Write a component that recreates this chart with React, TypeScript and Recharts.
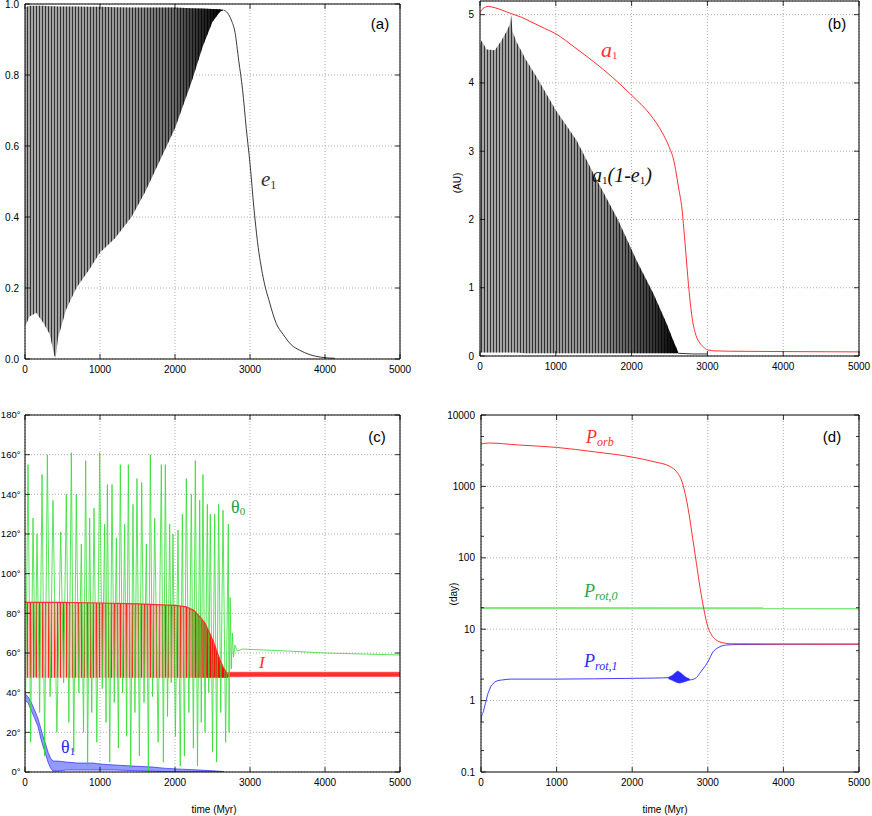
import React from "react";
import {
  Area,
  CartesianGrid,
  ComposedChart,
  Line,
  ReferenceLine,
  XAxis,
  YAxis,
} from "recharts";

// ---- axes ----
const TIME_TICKS = [0, 1000, 2000, 3000, 4000, 5000];
const E_TICKS = [0, 0.2, 0.4, 0.6, 0.8, 1.0];
const AU_TICKS = [0, 1, 2, 3, 4, 5];
const DEG_TICKS = [0, 20, 40, 60, 80, 100, 120, 140, 160, 180];
const DAY_MAJOR = [0.1, 1, 10, 100, 1000, 10000];
const DAY_TICKS = [0.1, 0.2, 0.5, 1, 2, 5, 10, 20, 50, 100, 200, 500, 1000, 2000, 5000, 10000];

// ---- (a) eccentricity e1: oscillation envelope, then smooth decay ----
const E1_OSC_T = [0, 60, 150, 250, 330, 390, 410, 440, 550, 684, 850, 1000, 1200, 1420, 1600, 1800, 2000, 2220, 2370, 2500, 2600, 2650];
const E1_OSC_LO = [0.09, 0.12, 0.13, 0.1, 0.07, 0.01, 0.005, 0.06, 0.14, 0.2, 0.25, 0.3, 0.34, 0.4, 0.47, 0.56, 0.65, 0.78, 0.88, 0.95, 0.978, 0.983];
const E1_OSC_HI = [0.99, 0.995, 0.995, 0.995, 0.994, 0.994, 0.994, 0.993, 0.993, 0.993, 0.992, 0.992, 0.991, 0.99, 0.99, 0.99, 0.99, 0.988, 0.987, 0.986, 0.985, 0.983];
const E1_TAIL_T = [2650, 2700, 2750, 2800, 2850, 2900, 2950, 3000, 3050, 3100, 3175, 3260, 3350, 3440, 3550, 3660, 3800, 3950, 4130];
const E1_TAIL = [0.983, 0.975, 0.955, 0.92, 0.84, 0.76, 0.65, 0.55, 0.43, 0.33, 0.23, 0.16, 0.1, 0.07, 0.04, 0.025, 0.012, 0.005, 0.002];

// ---- (b) a1 and a1(1-e1) in AU ----
const A1_T = [0, 40, 110, 200, 400, 550, 700, 850, 1000, 1250, 1500, 1750, 2000, 2250, 2400, 2500, 2560, 2600, 2630, 2660, 2690, 2720, 2750, 2770, 2800, 2850, 2900, 2950, 3000, 3100, 3300, 4000, 5000];
const A1 = [5.03, 5.09, 5.12, 5.1, 5.02, 4.96, 4.88, 4.8, 4.72, 4.52, 4.31, 4.08, 3.82, 3.53, 3.28, 3.05, 2.85, 2.6, 2.4, 2.2, 1.85, 1.45, 1.05, 0.82, 0.55, 0.3, 0.19, 0.13, 0.09, 0.075, 0.07, 0.065, 0.06];
const Q1_OSC_T = [0, 20, 86, 196, 284, 358, 390, 411, 430, 482, 600, 745, 1000, 1273, 1498, 1823, 2065, 2285, 2460, 2548, 2614];
const Q1_OSC_HI = [4.55, 4.62, 4.49, 4.48, 4.62, 4.77, 4.85, 4.99, 4.75, 4.6, 4.35, 4.09, 3.6, 3.16, 2.67, 1.99, 1.4, 0.92, 0.48, 0.23, 0.06];
const Q1_OSC_LO = [0.05, 0.05, 0.05, 0.05, 0.05, 0.05, 0.05, 0.05, 0.05, 0.05, 0.04, 0.04, 0.04, 0.04, 0.04, 0.04, 0.04, 0.04, 0.04, 0.04, 0.04];
const Q1_TAIL_T = [2614, 2800, 3000];
const Q1_TAIL = [0.04, 0.03, 0.03];

// ---- (c) angles in degrees ----
const TH0_T = [0, 40, 75, 107, 135, 160, 195, 227, 262, 298, 335, 373, 425, 476, 515, 551, 585, 618, 650, 684, 718, 751, 780, 809, 835, 862, 890, 920, 958, 996, 1030, 1062, 1080, 1098, 1130, 1160, 1190, 1218, 1245, 1271, 1300, 1329, 1355, 1378, 1410, 1440, 1466, 1493, 1525, 1556, 1587, 1618, 1645, 1671, 1700, 1729, 1775, 1818, 1845, 1871, 1900, 1929, 1950, 1973, 2005, 2040, 2070, 2098, 2125, 2151, 2185, 2218, 2245, 2271, 2300, 2329, 2350, 2373, 2400, 2431, 2450, 2471, 2500, 2529, 2555, 2582, 2610, 2640, 2675, 2711, 2720, 2735, 2750, 2765, 2780, 2800, 2830, 2900, 3500, 4000, 5000];
const TH0 = [10, 155, 15, 128, 48, 120, 30, 150, 8, 160, 38, 137, 20, 121, 45, 140, 25, 161, 10, 140, 40, 115, 20, 157, 3, 128, 30, 133, 15, 161, 42, 125, 25, 145, 5, 145, 35, 118, 12, 155, 40, 125, 18, 155, 2, 135, 30, 148, 8, 146, 35, 115, 0, 160, 38, 128, 15, 155, 5, 155, 28, 125, 45, 120, 18, 122, 3, 130, 8, 148, 30, 140, 12, 157, 3, 137, 25, 150, 20, 135, 40, 130, 10, 130, 5, 135, 30, 132, 15, 125, 20, 88, 52, 70, 58, 64, 61, 62, 61, 60, 59];
const INC_OSC_T = [0, 500, 1000, 1500, 2000, 2150, 2250, 2330, 2400, 2462, 2510, 2551, 2600, 2640, 2706];
const INC_OSC_HI = [85.5, 85.5, 85.2, 84.8, 84, 83.3, 81.5, 78.3, 75, 70, 66, 61.5, 56.5, 53, 48.8];
const INC_OSC_LO = [47.5, 47.5, 47.5, 47.5, 47.5, 47.5, 47.5, 47.5, 47.5, 47.5, 47.5, 47.5, 47.5, 47.5, 47.5];
const INC_TAIL_T = [2700, 3500, 5000];
const INC_TAIL_LO = [48, 48.2, 48.2];
const INC_TAIL_HI = [50.3, 50.3, 50.3];
const TH1_T = [0, 40, 84, 130, 173, 210, 240, 275, 307, 340, 373, 440, 551, 700, 907, 1000, 1200, 1440, 1700, 1884, 2100, 2329, 2551, 2650];
const TH1_LO = [36, 35, 31, 27, 23, 17, 13, 9, 5, 2, 0.5, 0.5, 1, 1, 1, 1, 1, 0.7, 0.4, 0.2, 0.1, 0, 0, 0];
const TH1_HI = [39.5, 38, 35, 31, 27, 22, 18, 14, 10, 7, 5.5, 5.5, 5, 4.5, 4.5, 4, 3.5, 3, 2.5, 1.8, 1.4, 1, 0.5, 0.2];

// ---- (d) periods in days ----
const PORB_T = [0, 100, 500, 1000, 1500, 2000, 2300, 2500, 2600, 2650, 2700, 2750, 2800, 2850, 2900, 2950, 3000, 3050, 3100, 3200, 3300, 4000, 5000];
const PORB = [3920, 4050, 3800, 3515, 3050, 2575, 2200, 1905, 1540, 1240, 800, 420, 187, 83, 37, 18.6, 10.8, 8.3, 7.2, 6.46, 6.25, 6.2, 6.17];
const PROT0_T = [0, 5000];
const PROT0 = [19.8, 19.6];
const PROT1_T = [0, 8, 31, 50, 66, 88, 110, 132, 155, 177, 220, 287, 400, 1000, 1500, 2000, 2400, 2500, 2760, 2850, 2892, 2936, 3002, 3068, 3135, 3245, 3400, 4000, 5000];
const PROT1 = [0.5, 0.6, 0.7, 0.85, 0.97, 1.22, 1.4, 1.6, 1.7, 1.8, 1.9, 1.95, 2.0, 2.0, 2.02, 2.05, 2.08, 2.1, 1.95, 2.1, 2.4, 2.77, 3.5, 4.8, 5.5, 6.0, 6.1, 6.15, 6.17];
const PROT1_BLOB_T = [2480, 2530, 2570, 2600, 2630, 2670, 2710, 2760];
const PROT1_BLOB_LO = [2.02, 1.92, 1.83, 1.78, 1.76, 1.8, 1.86, 1.95];
const PROT1_BLOB_HI = [2.12, 2.25, 2.45, 2.6, 2.5, 2.3, 2.12, 2.0];

const SANS = "'Liberation Sans', Arial, Helvetica, sans-serif";
const SERIF = "'Liberation Serif', 'DejaVu Serif', serif";
const RED = "#ff3030";
const BLUE = "#2a2aff";
const GREEN = "#30dd30";

const rows = (t: number[], v: number[]) => t.map((x, i) => ({ t: x, v: v[i] }));
const band = (t: number[], lo: number[], hi: number[]) =>
  t.map((x, i) => ({ t: x, r: [lo[i], hi[i]] }));

type Side = "left" | "right" | "bottom" | "top";

function makeTick(side: Side, fmt?: (v: number) => string, majors?: number[], margin = 6, size = 10) {
  return (props: any) => {
    const { x, y, payload } = props;
    const v = payload.value as number;
    const major = !majors || majors.some((m) => Math.abs(m - v) < 1e-9 * Math.max(1, m));
    const len = major ? 5 : 3;
    const showText = fmt && major;
    if (side === "left") {
      return (
        <g>
          <line x1={x + margin} x2={x + margin + len} y1={y} y2={y} stroke="#000" strokeWidth={0.8} />
          {showText ? (
            <text x={x} y={y} dy="0.35em" textAnchor="end" fontSize={size} fontFamily={SANS} fill="#000">
              {fmt!(v)}
            </text>
          ) : null}
        </g>
      );
    }
    if (side === "right") {
      return <line x1={x} x2={x - len} y1={y} y2={y} stroke="#000" strokeWidth={0.8} />;
    }
    if (side === "top") {
      return <line x1={x} x2={x} y1={y} y2={y + len} stroke="#000" strokeWidth={0.8} />;
    }
    return (
      <g>
        <line x1={x} x2={x} y1={y - 7} y2={y - 7 - len} stroke="#000" strokeWidth={0.8} />
        {showText ? (
          <text x={x} y={y} dy="0.71em" textAnchor="middle" fontSize={10} fontFamily={SANS} fill="#000">
            {fmt!(v)}
          </text>
        ) : null}
      </g>
    );
  };
}

const fmtNum = (v: number) => String(v);
const fmtE = (v: number) => v.toFixed(1);
const fmtDeg = (v: number) => `${v}°`;

function Frame({
  yDomain,
  yTicks,
  yFmt,
  yWidth,
  log,
  majors,
  margin = 6,
  size = 10,
}: {
  yDomain: [number, number];
  yTicks: number[];
  yFmt: (v: number) => string;
  yWidth: number;
  log?: boolean;
  majors?: number[];
  margin?: number;
  size?: number;
}) {
  return [
    <XAxis
      key="xb"
      type="number"
      dataKey="t"
      domain={[0, 5000]}
      ticks={TIME_TICKS}
      interval={0}
      allowDataOverflow
      height={20}
      tickSize={0}
      tickMargin={7}
      tickLine={false}
      axisLine={{ stroke: "#000" }}
      tick={makeTick("bottom", fmtNum)}
    />,
    <XAxis
      key="xt"
      xAxisId="top"
      orientation="top"
      type="number"
      dataKey="t"
      domain={[0, 5000]}
      ticks={TIME_TICKS}
      interval={0}
      allowDataOverflow
      height={1}
      tickSize={0}
      tickMargin={0}
      tickLine={false}
      axisLine={{ stroke: "#000" }}
      tick={makeTick("top")}
    />,
    <YAxis
      key="yl"
      type="number"
      scale={log ? "log" : "auto"}
      domain={yDomain}
      ticks={yTicks}
      interval={0}
      allowDataOverflow
      width={yWidth}
      tickSize={0}
      tickMargin={margin}
      tickLine={false}
      axisLine={{ stroke: "#000" }}
      tick={makeTick("left", yFmt, majors, margin, size)}
    />,
    <YAxis
      key="yr"
      yAxisId="r"
      orientation="right"
      type="number"
      scale={log ? "log" : "auto"}
      domain={yDomain}
      ticks={yTicks}
      interval={0}
      allowDataOverflow
      width={1}
      tickSize={0}
      tickMargin={0}
      tickLine={false}
      axisLine={{ stroke: "#000" }}
      tick={makeTick("right", undefined, majors)}
    />,
  ];
}

const GRID = { stroke: "#9a9a9a", strokeDasharray: "1 2", strokeWidth: 0.8 };

function PanelA() {
  return (
    <ComposedChart width={436} height={400} margin={{ top: 3, right: 35, bottom: 21, left: 0 }}>
      <CartesianGrid {...GRID} />
      {Frame({ yDomain: [0, 1], yTicks: E_TICKS, yFmt: fmtE, yWidth: 25 })}
      <Area data={band(E1_OSC_T, E1_OSC_LO, E1_OSC_HI)} dataKey="r" type="linear" stroke="none" fill="url(#gradK)" fillOpacity={1} isAnimationActive={false} />
      <Area data={band(E1_OSC_T, E1_OSC_LO, E1_OSC_HI)} dataKey="r" type="linear" stroke="none" fill="url(#stripeK)" fillOpacity={1} isAnimationActive={false} />
      <Line data={rows(E1_TAIL_T, E1_TAIL)} dataKey="v" type="monotone" stroke="#222" strokeWidth={0.9} dot={false} isAnimationActive={false} />
    </ComposedChart>
  );
}

function PanelB() {
  return (
    <ComposedChart width={436} height={400} margin={{ top: 0, right: 12, bottom: 24, left: 0 }}>
      <CartesianGrid {...GRID} />
      {Frame({ yDomain: [0, 5.2], yTicks: AU_TICKS, yFmt: fmtNum, yWidth: 44 })}
      <Area data={band(Q1_OSC_T, Q1_OSC_LO, Q1_OSC_HI)} dataKey="r" type="linear" stroke="none" fill="url(#gradK2)" fillOpacity={1} isAnimationActive={false} />
      <Area data={band(Q1_OSC_T, Q1_OSC_LO, Q1_OSC_HI)} dataKey="r" type="linear" stroke="none" fill="url(#stripeK)" fillOpacity={1} isAnimationActive={false} />
      <Line data={rows(Q1_TAIL_T, Q1_TAIL)} dataKey="v" type="linear" stroke="#222" strokeWidth={0.9} dot={false} isAnimationActive={false} />
      <Line data={rows(A1_T, A1)} dataKey="v" type="monotone" stroke={RED} strokeWidth={1} dot={false} isAnimationActive={false} />
    </ComposedChart>
  );
}

function PanelC() {
  return (
    <ComposedChart width={436} height={416} margin={{ top: 14, right: 35, bottom: 24, left: 0 }}>
      <CartesianGrid {...GRID} />
      {Frame({ yDomain: [0, 180], yTicks: DEG_TICKS, yFmt: fmtDeg, yWidth: 25, margin: 4.5, size: 9.5 })}
      <Line data={rows(TH0_T, TH0)} dataKey="v" type="linear" stroke={GREEN} strokeWidth={0.8} dot={false} isAnimationActive={false} />
      <Area data={band(INC_OSC_T, INC_OSC_LO, INC_OSC_HI)} dataKey="r" type="linear" stroke="none" fill="url(#gradR)" fillOpacity={1} isAnimationActive={false} />
      <Area data={band(INC_OSC_T, INC_OSC_LO, INC_OSC_HI)} dataKey="r" type="linear" stroke="none" fill="url(#stripeR)" fillOpacity={1} isAnimationActive={false} />
      <Line data={rows(INC_OSC_T, INC_OSC_HI)} dataKey="v" type="linear" stroke={RED} strokeWidth={1.2} dot={false} isAnimationActive={false} />
      <Area data={band(INC_TAIL_T, INC_TAIL_LO, INC_TAIL_HI)} dataKey="r" type="linear" stroke={RED} strokeWidth={0.6} fill={RED} fillOpacity={1} isAnimationActive={false} />
      <Area data={band(TH1_T, TH1_LO, TH1_HI)} dataKey="r" type="linear" stroke={BLUE} strokeWidth={0.7} fill="#5a64ff" fillOpacity={0.65} isAnimationActive={false} />
    </ComposedChart>
  );
}

function PanelD() {
  return (
    <ComposedChart width={436} height={416} margin={{ top: 14, right: 12, bottom: 24, left: 0 }}>
      <CartesianGrid {...GRID} horizontal={false} />
      {[1, 10, 100, 1000].map((v) => (
        <ReferenceLine key={v} y={v} {...GRID} />
      ))}
      {Frame({ yDomain: [0.1, 10000], yTicks: DAY_TICKS, yFmt: fmtNum, yWidth: 45, log: true, majors: DAY_MAJOR })}
      <Line data={rows(PROT0_T, PROT0)} dataKey="v" type="linear" stroke="#7fe87f" strokeWidth={2.2} dot={false} isAnimationActive={false} />
      <Area data={band(PROT1_BLOB_T, PROT1_BLOB_LO, PROT1_BLOB_HI)} dataKey="r" type="linear" stroke={BLUE} strokeWidth={0.6} fill={BLUE} fillOpacity={1} isAnimationActive={false} />
      <Line data={rows(PROT1_T, PROT1)} dataKey="v" type="monotone" stroke={BLUE} strokeWidth={0.9} dot={false} isAnimationActive={false} />
      <Line data={rows(PORB_T, PORB)} dataKey="v" type="monotone" stroke={RED} strokeWidth={1} dot={false} isAnimationActive={false} />
    </ComposedChart>
  );
}

function Annotations() {
  const t = { fontFamily: SERIF };
  return (
    <svg width={872} height={816} style={{ position: "absolute", left: 0, top: 0, pointerEvents: "none" }}>
      <g fontFamily={SANS} fontSize={15} textAnchor="middle" fill="#000">
        <text x={380} y={29}>(a)</text>
        <text x={837} y={29}>(b)</text>
        <text x={377} y={442}>(c)</text>
        <text x={832} y={442}>(d)</text>
      </g>
      <g fontFamily={SANS} fontSize={10} fill="#000" textAnchor="middle">
        <text x={457} y={183} dy="0.35em" transform="rotate(-90 457 183)">(AU)</text>
        <text x={453} y={594} dy="0.35em" transform="rotate(-90 453 594)">(day)</text>
        <text x={214} y={813}>time (Myr)</text>
        <text x={665} y={813}>time (Myr)</text>
      </g>
      <text x={261} y={186} {...t} fontStyle="italic" fontSize={21} fill="#333">
        e<tspan fontSize={12} fontStyle="normal" dy={3}>1</tspan>
      </text>
      <text x={601} y={57} {...t} fontStyle="italic" fontSize={22} fill={RED}>
        a<tspan fontSize={11} fontStyle="normal" dy={2}>1</tspan>
      </text>
      <text x={592} y={182} {...t} fontStyle="italic" fontSize={20} fill="#111">
        a<tspan fontSize={11} fontStyle="normal" dy={2}>1</tspan>
        <tspan dy={-2}>(1-e</tspan>
        <tspan fontSize={11} fontStyle="normal" dy={2}>1</tspan>
        <tspan dy={-2}>)</tspan>
      </text>
      <text x={231} y={513} {...t} fontSize={18} fill="#1fa04a">
        θ<tspan fontSize={11} dy={2}>0</tspan>
      </text>
      <text x={259} y={668} {...t} fontStyle="italic" fontSize={17} fill={RED}>I</text>
      <text x={61} y={753} {...t} fontSize={18} fill={BLUE}>
        θ<tspan fontSize={11} dy={2}>1</tspan>
      </text>
      <text x={586} y={443} {...t} fontStyle="italic" fontSize={18} fill={RED}>
        P<tspan fontSize={12} dy={3}>orb</tspan>
      </text>
      <text x={584} y={597} {...t} fontStyle="italic" fontSize={18} fill="#22aa44">
        P<tspan fontSize={12} dy={3}>rot,0</tspan>
      </text>
      <text x={584} y={667} {...t} fontStyle="italic" fontSize={18} fill={BLUE}>
        P<tspan fontSize={12} dy={3}>rot,1</tspan>
      </text>
    </svg>
  );
}

export default function App() {
  return (
    <div style={{ position: "absolute", left: 0, top: 0, width: 872, height: 816, background: "#fff" }}>
      <svg width={0} height={0} style={{ position: "absolute" }}>
        <defs>
          <linearGradient id="gradK" x1="0" y1="0" x2="1" y2="0">
            <stop offset="0" stopColor="#a8a8a8" />
            <stop offset="0.5" stopColor="#969696" />
            <stop offset="0.75" stopColor="#686868" />
            <stop offset="0.88" stopColor="#2a2a2a" />
            <stop offset="1" stopColor="#000" />
          </linearGradient>
          <linearGradient id="gradK2" x1="0" y1="0" x2="1" y2="0">
            <stop offset="0" stopColor="#a8a8a8" />
            <stop offset="0.6" stopColor="#909090" />
            <stop offset="0.85" stopColor="#404040" />
            <stop offset="1" stopColor="#000" />
          </linearGradient>
          <linearGradient id="gradR" x1="0" y1="0" x2="1" y2="0">
            <stop offset="0" stopColor="#ff6060" stopOpacity={0.38} />
            <stop offset="0.78" stopColor="#ff5050" stopOpacity={0.45} />
            <stop offset="0.9" stopColor="#ff1010" stopOpacity={0.95} />
            <stop offset="1" stopColor="#ff0000" stopOpacity={1} />
          </linearGradient>
          <pattern id="stripeK" patternUnits="userSpaceOnUse" width={3} height={8}>
            <rect x={0} y={0} width={0.7} height={8} fill="#000" />
          </pattern>
          <pattern id="stripeR" patternUnits="userSpaceOnUse" width={3} height={8}>
            <rect x={0} y={0} width={0.8} height={8} fill="#ff0000" />
          </pattern>
        </defs>
      </svg>
      <div style={{ position: "absolute", left: 0, top: 0 }}>
        <PanelA />
      </div>
      <div style={{ position: "absolute", left: 436, top: 0 }}>
        <PanelB />
      </div>
      <div style={{ position: "absolute", left: 0, top: 400 }}>
        <PanelC />
      </div>
      <div style={{ position: "absolute", left: 436, top: 400 }}>
        <PanelD />
      </div>
      <Annotations />
    </div>
  );
}
